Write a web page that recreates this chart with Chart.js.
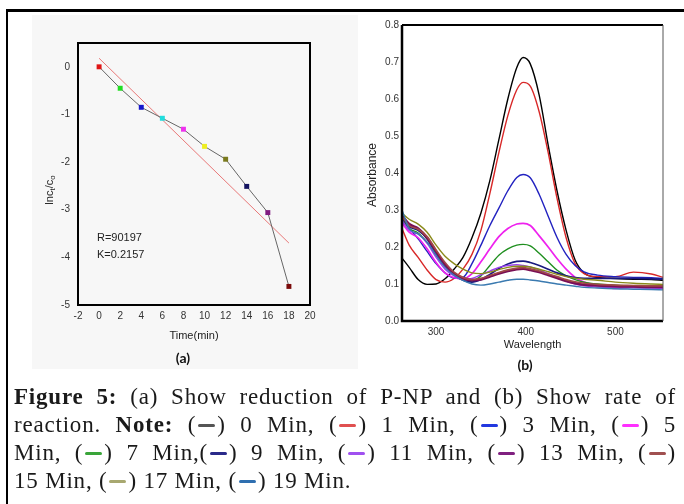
<!DOCTYPE html>
<html><head><meta charset="utf-8">
<script src="https://cdn.jsdelivr.net/npm/chart.js@4.4.1/dist/chart.umd.min.js"></script>
<style>
html,body{margin:0;padding:0;background:#fff;width:684px;height:504px;overflow:hidden;position:relative;}
#panelA{position:absolute;left:32px;top:15px;width:326px;height:354px;background:#f7f7f7;}
#topline{position:absolute;left:6px;top:9px;width:678px;height:3px;background:#000;}
#leftline{position:absolute;left:6px;top:9px;width:2px;height:495px;background:#000;}
#cA{position:absolute;left:20px;top:15px;}
#cB{position:absolute;left:355px;top:10px;}
.cap{position:absolute;left:14px;width:662px;font-family:"Liberation Serif","DejaVu Serif",serif;font-size:23px;letter-spacing:0.8px;line-height:28px;color:#1a1a1a;white-space:nowrap;}
.j{text-align:justify;text-align-last:justify;white-space:normal;}
.d{display:inline-block;width:17px;height:3px;border-radius:1.5px;vertical-align:middle;margin:0 2px;position:relative;top:-1px;}
b{font-weight:bold;}
</style></head>
<body>
<div id="panelA"></div>
<div id="topline"></div><div id="leftline"></div>
<canvas id="cA" width="340" height="355"></canvas>
<canvas id="cB" width="329" height="375"></canvas>
<div class="cap j" style="top:383px"><b>Figure 5:</b> (a) Show reduction of P-NP and (b) Show rate of</div>
<div class="cap j" style="top:411px">reaction. <b>Note:</b> (<span class="d" style="background:#555"></span>) 0 Min, (<span class="d" style="background:#e05050"></span>) 1 Min, (<span class="d" style="background:#2238e0"></span>) 3 Min, (<span class="d" style="background:#ff30ff"></span>) 5</div>
<div class="cap j" style="top:439px">Min, (<span class="d" style="background:#3aa53a"></span>) 7 Min,(<span class="d" style="background:#2a2a8a"></span>) 9 Min, (<span class="d" style="background:#a050f0"></span>) 11 Min, (<span class="d" style="background:#802080"></span>) 13 Min, (<span class="d" style="background:#a05050"></span>)</div>
<div class="cap" style="top:467px">15 Min, (<span class="d" style="background:#a8a870"></span>) 17 Min, (<span class="d" style="background:#2f6fb0"></span>) 19 Min.</div>
<script>
// ---------- Panel (a) data ----------
const timeMin = [0, 2, 4, 6, 8, 10, 12, 14, 16, 18];
const lnRatio = [0, -0.45, -0.85, -1.08, -1.31, -1.67, -1.94, -2.51, -3.06, -4.61];
const markerColors = ['#e01515','#22dd22','#1515cc','#22dddd','#ee33ee','#eeee22','#7a7a1e','#141460','#801a80','#7a0a0a'];
const fitTime = [0, 18];
const fitValue = [0.18, -3.70];
const xTicksA = [-2, 0, 2, 4, 6, 8, 10, 12, 14, 16, 18, 20];
const yTicksA = [-5, -4, -3, -2, -1, 0];
const noteLines = ['R=90197', 'K=0.2157'];

// ---------- Panel (b) data ----------
const wavelength = [262,270,280,290,300,310,320,330,340,350,360,370,380,390,397,405,415,425,435,445,455,465,480,500,520,540,553];
const abs0  = [0.170,0.145,0.112,0.099,0.100,0.114,0.140,0.172,0.225,0.292,0.380,0.490,0.600,0.685,0.712,0.695,0.610,0.475,0.350,0.245,0.165,0.130,0.118,0.115,0.113,0.112,0.110];
const abs1  = [0.250,0.205,0.172,0.138,0.112,0.105,0.115,0.140,0.180,0.245,0.345,0.455,0.555,0.625,0.645,0.635,0.565,0.455,0.330,0.225,0.155,0.128,0.120,0.120,0.132,0.127,0.118];
const abs3  = [0.270,0.250,0.222,0.188,0.155,0.130,0.116,0.118,0.155,0.205,0.258,0.305,0.352,0.388,0.396,0.387,0.342,0.283,0.225,0.180,0.150,0.133,0.124,0.120,0.118,0.117,0.115];
const abs5  = [0.265,0.240,0.225,0.195,0.158,0.130,0.117,0.114,0.128,0.160,0.195,0.228,0.250,0.262,0.264,0.258,0.230,0.200,0.168,0.140,0.118,0.105,0.097,0.088,0.092,0.090,0.090];
const abs7  = [0.275,0.250,0.238,0.212,0.178,0.148,0.128,0.115,0.108,0.122,0.150,0.178,0.195,0.205,0.207,0.203,0.183,0.160,0.137,0.122,0.112,0.105,0.100,0.097,0.095,0.095,0.094];
const abs9  = [0.280,0.255,0.245,0.222,0.182,0.148,0.125,0.110,0.105,0.112,0.126,0.142,0.154,0.161,0.162,0.158,0.150,0.140,0.130,0.122,0.117,0.115,0.115,0.115,0.115,0.114,0.113];
const abs11 = [0.272,0.245,0.235,0.210,0.172,0.140,0.122,0.112,0.115,0.125,0.135,0.145,0.150,0.152,0.150,0.146,0.138,0.128,0.118,0.108,0.100,0.095,0.092,0.090,0.090,0.089,0.088];
const abs13 = [0.285,0.262,0.250,0.225,0.188,0.152,0.128,0.115,0.110,0.112,0.120,0.128,0.135,0.140,0.141,0.138,0.132,0.124,0.116,0.108,0.102,0.098,0.096,0.094,0.093,0.092,0.092];
const abs15 = [0.282,0.258,0.248,0.228,0.192,0.158,0.132,0.118,0.112,0.115,0.123,0.131,0.138,0.143,0.144,0.141,0.135,0.127,0.120,0.112,0.106,0.102,0.099,0.097,0.096,0.095,0.095];
const abs17 = [0.292,0.275,0.262,0.240,0.205,0.175,0.155,0.140,0.130,0.128,0.132,0.139,0.145,0.148,0.148,0.146,0.140,0.133,0.126,0.120,0.116,0.113,0.110,0.105,0.102,0.100,0.099];
const abs19 = [0.300,0.250,0.235,0.213,0.178,0.145,0.124,0.110,0.100,0.097,0.100,0.105,0.110,0.113,0.113,0.111,0.108,0.104,0.100,0.097,0.094,0.091,0.089,0.087,0.086,0.085,0.084];
const seriesNames = ['0 Min','1 Min','3 Min','5 Min','7 Min','9 Min','11 Min','13 Min','15 Min','17 Min','19 Min'];
const seriesValues = [abs0, abs1, abs3, abs5, abs7, abs9, abs11, abs13, abs15, abs17, abs19];
const seriesColors = ['#000000','#d82828','#2222c0','#ee22ee','#1f8f1f','#1a1a80','#9b40f0','#7a0f55','#a04848','#8a8a1a','#3a7ab0'];
const seriesWidths = [1.4,1.4,1.4,1.7,1.4,1.7,1.4,2.5,1.7,1.4,1.4];
const xTicksB = [300, 400, 500];
const yTicksB = [0, 0.1, 0.2, 0.3, 0.4, 0.5, 0.6, 0.7, 0.8];

const SANS = '"Liberation Sans", Arial, sans-serif';

// ---------- Chart A ----------
const plotA = {
  id: 'plotA',
  afterDraw(chart) {
    const ctx = chart.ctx, a = chart.chartArea;
    ctx.save();
    ctx.strokeStyle = '#000'; ctx.lineWidth = 2;
    ctx.strokeRect(a.left, a.top, a.right - a.left, a.bottom - a.top);
    const xs = chart.scales.x, ys = chart.scales.y;
    ctx.fillStyle = '#222'; ctx.font = '11px ' + SANS;
    ctx.textAlign = 'left'; ctx.textBaseline = 'middle';
    ctx.fillText(noteLines[0], xs.getPixelForValue(-0.2), ys.getPixelForValue(-3.6));
    ctx.fillText(noteLines[1], xs.getPixelForValue(-0.2), ys.getPixelForValue(-3.96));
    ctx.textAlign = 'center';
    ctx.font = '11px ' + SANS;
    ctx.fillText('Time(min)', (a.left + a.right) / 2, 321);
    ctx.font = 'bold 14px Lato, "Open Sans", sans-serif';
    ctx.fillStyle = '#111';
    ctx.fillText('(a)', 163, 343);
    ctx.save();
    ctx.translate(30, 175);
    ctx.rotate(-Math.PI / 2);
    ctx.fillStyle = '#222';
    const parts = [['lnc', 11, 0], ['t', 8, 3], ['/c', 11, 0], ['o', 8, 3]];
    let total = 0;
    parts.forEach(p => { ctx.font = p[1] + 'px ' + SANS; total += ctx.measureText(p[0]).width; });
    let x = -total / 2;
    ctx.textAlign = 'left'; ctx.textBaseline = 'middle';
    parts.forEach(p => { ctx.font = p[1] + 'px ' + SANS; ctx.fillText(p[0], x, p[2]); x += ctx.measureText(p[0]).width; });
    ctx.restore();
    ctx.restore();
  }
};

new Chart(document.getElementById('cA'), {
  type: 'line',
  data: {
    datasets: [
      { data: timeMin.map((t, i) => ({ x: t, y: lnRatio[i] })), borderColor: '#666', borderWidth: 1,
        pointStyle: 'rect', pointRadius: 3.5, pointBackgroundColor: markerColors, pointBorderColor: markerColors, pointBorderWidth: 0, order: 0 },
      { data: fitTime.map((t, i) => ({ x: t, y: fitValue[i] })), borderColor: '#e87878', borderWidth: 1, pointRadius: 0, order: 1 }
    ]
  },
  options: {
    responsive: false, animation: false, events: [],
    layout: { padding: { left: 28, top: 28, right: 50, bottom: 45 } },
    plugins: { legend: { display: false }, tooltip: { enabled: false } },
    scales: {
      x: { type: 'linear', min: -2, max: 20,
        afterBuildTicks: s => { s.ticks = xTicksA.map(v => ({ value: v })); },
        afterFit: s => { s.height = 20; },
        grid: { display: false, drawTicks: false }, border: { display: false },
        ticks: { padding: 5, color: '#333', font: { family: SANS, size: 10 }, maxRotation: 0, autoSkip: false } },
      y: { type: 'linear', min: -5, max: 0.5,
        afterBuildTicks: s => { s.ticks = yTicksA.map(v => ({ value: v })); },
        afterFit: s => { s.width = 30; },
        grid: { display: false, drawTicks: false }, border: { display: false },
        ticks: { padding: 8, color: '#333', font: { family: SANS, size: 10 } } }
    }
  },
  plugins: [plotA]
});

// ---------- Chart B ----------
const plotB = {
  id: 'plotB',
  afterDraw(chart) {
    const ctx = chart.ctx, a = chart.chartArea;
    ctx.save();
    ctx.strokeStyle = '#000';
    ctx.lineWidth = 2.5;
    ctx.beginPath(); ctx.moveTo(a.left, a.top); ctx.lineTo(a.left, a.bottom); ctx.lineTo(a.right, a.bottom); ctx.stroke();
    ctx.lineWidth = 2;
    ctx.beginPath(); ctx.moveTo(a.left, a.top); ctx.lineTo(a.right, a.top); ctx.stroke();
    ctx.strokeStyle = '#555'; ctx.lineWidth = 1;
    ctx.beginPath(); ctx.moveTo(a.right, a.top); ctx.lineTo(a.right, a.bottom); ctx.stroke();
    ctx.fillStyle = '#222'; ctx.textAlign = 'center'; ctx.textBaseline = 'middle';
    ctx.font = '11px ' + SANS;
    ctx.fillText('Wavelength', (a.left + a.right) / 2, 335);
    ctx.font = 'bold 14px Lato, "Open Sans", sans-serif';
    ctx.fillStyle = '#111';
    ctx.fillText('(b)', 170, 355);
    ctx.save();
    ctx.translate(18, 165); ctx.rotate(-Math.PI / 2);
    ctx.fillStyle = '#222'; ctx.font = '12px ' + SANS;
    ctx.fillText('Absorbance', 0, 0);
    ctx.restore();
    ctx.restore();
  }
};

new Chart(document.getElementById('cB'), {
  type: 'line',
  data: {
    datasets: seriesValues.map((vals, k) => ({
      label: seriesNames[k],
      data: wavelength.map((w, i) => ({ x: w, y: vals[i] })),
      borderColor: seriesColors[k], borderWidth: seriesWidths[k],
      pointRadius: 0, cubicInterpolationMode: 'monotone', order: 11 - k
    }))
  },
  options: {
    responsive: false, animation: false, events: [],
    layout: { padding: { left: 22, top: 15, right: 21, bottom: 44 } },
    plugins: { legend: { display: false }, tooltip: { enabled: false } },
    scales: {
      x: { type: 'linear', min: 262, max: 553,
        afterBuildTicks: s => { s.ticks = xTicksB.map(v => ({ value: v })); },
        afterFit: s => { s.height = 20; },
        grid: { display: false, drawTicks: false }, border: { display: false },
        ticks: { padding: 5, color: '#333', font: { family: SANS, size: 10 }, maxRotation: 0, autoSkip: false } },
      y: { type: 'linear', min: 0, max: 0.8,
        afterBuildTicks: s => { s.ticks = yTicksB.map(v => ({ value: v })); },
        afterFit: s => { s.width = 25; },
        grid: { display: false, drawTicks: false }, border: { display: false },
        ticks: { padding: 3, color: '#333', font: { family: SANS, size: 10 }, callback: v => v.toFixed(1) } }
    }
  },
  plugins: [plotB]
});
</script>
</body></html>
